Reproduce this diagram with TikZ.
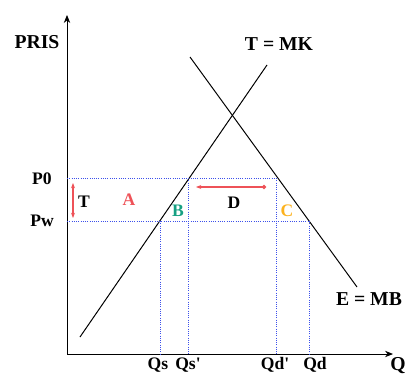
\documentclass[tikz,border=0pt]{standalone}
\usepackage{fontspec}
\setmainfont{Liberation Serif}
\usetikzlibrary{arrows.meta}
\definecolor{lred}{RGB}{238,82,88}
\definecolor{lteal}{RGB}{22,160,130}
\definecolor{lorange}{RGB}{252,178,30}
\definecolor{lblue}{RGB}{60,80,235}

\begin{document}
\begin{tikzpicture}[x=0.025cm,y=-0.025cm,font=\bfseries\fontsize{12.5}{14}\selectfont,
  lab/.style={inner sep=0pt},
  big/.style={inner sep=0pt,font=\bfseries\fontsize{14}{16}\selectfont},
  dot/.style={densely dotted,lblue,line width=0.6pt},
  ax/.style={-{Stealth[length=2mm,width=1.6mm]},line width=0.6pt},
  ln/.style={line width=0.7pt},
  rar/.style={lred,line width=0.9pt}]
  \useasboundingbox (0,0) rectangle (408,374);
  % axes
  \coordinate (o) at (67,354);
  \coordinate (ytop) at (67,15);
  \coordinate (xend) at (393,354);
  \draw[ax](o)--(ytop);\draw[ax](o)--(xend);
  \node[big](pris) at (37,42){PRIS};
  \node[big](q) at (398,366){Q};
  % supply and demand
  \coordinate (s1) at (80,337);\coordinate (s2) at (267,65);
  \coordinate (d1) at (190,57);\coordinate (d2) at (357,287);
  \draw[ln](s1)--(s2);\draw[ln](d1)--(d2);
  \node[big](tmk) at (279,44){T = MK};
  \node[big](emb) at (369,299){E = MB};
  % price levels
  \coordinate (p0) at (67,178);\coordinate (pw) at (67,221);
  \coordinate (qst) at (160,221);\coordinate (qspt) at (188,178);
  \coordinate (qdpt) at (276,178);\coordinate (qdt) at (309,221);
  \coordinate (qsb) at (160,354);\coordinate (qspb) at (188,354);
  \coordinate (qdpb) at (276,354);\coordinate (qdb) at (309,354);
  \draw[dot](p0)--(qdpt);\draw[dot](pw)--(qdt);
  \draw[dot](qst)--(qsb);\draw[dot](qspt)--(qspb);
  \draw[dot](qdpt)--(qdpb);\draw[dot](qdt)--(qdb);
  \node[lab](lp0) at (42,179){P0};
  \node[lab](lpw) at (42,221){Pw};
  \node[lab](lqs) at (158,365){Qs};
  \node[lab](lqsp) at (188,365){Qs\textquotesingle};
  \node[lab](lqdp) at (275,365){Qd\textquotesingle};
  \node[lab](lqd) at (315,365){Qd};
  % areas
  \coordinate (t1) at (73,183);\coordinate (t2) at (73,218);
  \draw[rar,{Stealth[length=1.3mm]}-{Stealth[length=1.3mm]}](t1)--(t2);
  \node[lab](lt) at (84,202){T};
  \node[lab,text=lred](la) at (129,200){A};
  \node[lab,text=lteal](lb) at (178,211){B};
  \node[lab](ld) at (234,203){D};
  \node[lab,text=lorange](lc) at (287,211){C};
  \coordinate (h1) at (196,187);\coordinate (h2) at (266,187);
  \draw[rar,{Stealth[length=1.3mm]}-{Circle[length=1mm]}](h1)--(h2);
\end{tikzpicture}
\end{document}
